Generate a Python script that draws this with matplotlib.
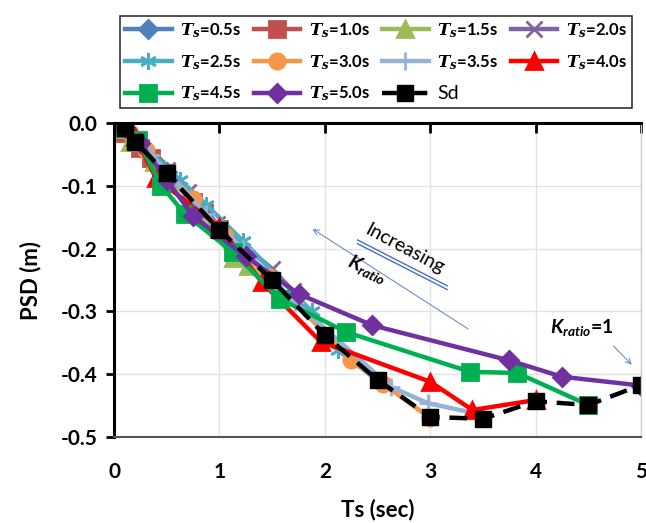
import matplotlib
matplotlib.use("Agg")
import matplotlib.pyplot as plt

plt.rcParams['font.family'] = ['Lato', 'DejaVu Sans']
plt.rcParams['axes.unicode_minus'] = False
plt.rcParams['mathtext.fontset'] = 'custom'
plt.rcParams['mathtext.it'] = 'DejaVu Serif:italic:bold'
plt.rcParams['mathtext.rm'] = 'Lato:bold'
plt.rcParams['mathtext.sf'] = 'Lato:italic:bold'

# data (Ts in sec, PSD in m)
x_05 = [0.01, 0.025, 0.05, 0.125, 0.175, 0.245, 0.375, 0.425, 0.5]
y_05 = [0.0, -0.002, -0.004, -0.016, -0.024, -0.038, -0.060, -0.068, -0.078]
x_10 = [0.02, 0.05, 0.1, 0.25, 0.35, 0.49, 0.75, 0.85, 1.0]
y_10 = [-0.001, -0.006, -0.015, -0.040, -0.056, -0.080, -0.125, -0.143, -0.168]
x_15 = [0.03, 0.075, 0.15, 0.375, 0.525, 0.735, 1.125, 1.275, 1.5]
y_15 = [-0.002, -0.010, -0.030, -0.062, -0.088, -0.125, -0.215, -0.228, -0.250]
x_20 = [0.04, 0.1, 0.2, 0.5, 0.7, 0.98, 1.5, 1.7, 2.0]
y_20 = [-0.002, -0.010, -0.028, -0.075, -0.110, -0.160, -0.232, -0.268, -0.335]
x_25 = [0.05, 0.125, 0.25, 0.625, 0.875, 1.225, 1.875, 2.125, 2.5]
y_25 = [-0.003, -0.012, -0.032, -0.090, -0.130, -0.188, -0.300, -0.362, -0.410]
x_30 = [0.06, 0.15, 0.3, 0.75, 1.05, 1.47, 2.25, 2.55, 3.0]
y_30 = [-0.004, -0.016, -0.042, -0.120, -0.180, -0.245, -0.377, -0.415, -0.470]
x_35 = [0.07, 0.175, 0.35, 0.875, 1.225, 1.715, 2.625, 2.975, 3.5]
y_35 = [-0.005, -0.018, -0.050, -0.145, -0.200, -0.285, -0.420, -0.446, -0.465]
x_40 = [0.08, 0.2, 0.4, 1.0, 1.4, 1.96, 3.0, 3.4, 4.0]
y_40 = [-0.006, -0.022, -0.088, -0.165, -0.253, -0.348, -0.412, -0.457, -0.441]
x_45 = [0.09, 0.225, 0.45, 0.675, 1.125, 1.575, 2.205, 3.375, 3.825, 4.5]
y_45 = [-0.007, -0.026, -0.100, -0.145, -0.205, -0.280, -0.333, -0.396, -0.398, -0.449]
x_50 = [0.1, 0.25, 0.5, 0.75, 1.25, 1.75, 2.45, 3.75, 4.25, 5.0]
y_50 = [-0.008, -0.032, -0.090, -0.148, -0.212, -0.272, -0.322, -0.378, -0.404, -0.418]
x_sd = [0.1, 0.2, 0.5, 1.0, 1.5, 2.0, 2.5, 3.0, 3.5, 4.0, 4.5, 5.0]
y_sd = [-0.008, -0.030, -0.080, -0.170, -0.250, -0.338, -0.409, -0.468, -0.471, -0.443, -0.449, -0.417]

labels = ['0.5', '1.0', '1.5', '2.0', '2.5', '3.0', '3.5', '4.0', '4.5', '5.0']
xs = [x_05, x_10, x_15, x_20, x_25, x_30, x_35, x_40, x_45, x_50]
ys = [y_05, y_10, y_15, y_20, y_25, y_30, y_35, y_40, y_45, y_50]
colors = ['#4F81BD', '#C0504D', '#9BBB59', '#8064A2', '#4BACC6',
          '#F79646', '#95B3D7', '#FF0000', '#00B050', '#7030A0']
markers = ['D', 's', '^', 'x', (6, 2, 0), 'o', '+', '^', 's', 'D']
msizes = [9, 11, 11, 11, 12, 11, 13, 12, 11, 9]

fig = plt.figure(figsize=(6.46, 5.23), dpi=100)
ax = fig.add_axes([0.1765, 0.1644, 0.816, 0.600])

handles = []
for x, y, lab, c, m, ms in zip(xs, ys, labels, colors, markers, msizes):
    h, = ax.plot(x, y, color=c, lw=3.2, marker=m, ms=ms, mew=2,
                 label=r'$T_s$=' + lab + 's')
    handles.append(h)
h_sd, = ax.plot(x_sd, y_sd, color='black', lw=3.2, ls=(0, (4, 2.2)), marker='s',
                ms=11, label='Sd')
handles.append(h_sd)

ax.set_xlim(0, 5)
ax.set_ylim(-0.5, 0.0)
ax.set_xticks([0, 1, 2, 3, 4, 5])
ax.set_yticks([0.0, -0.1, -0.2, -0.3, -0.4, -0.5])
ax.set_yticklabels(['0.0', '-0.1', '-0.2', '-0.3', '-0.4', '-0.5'])
ax.grid(True, color='#E3E3E3', lw=1)
ax.set_axisbelow(True)

for s in ['top', 'left']:
    ax.spines[s].set_linewidth(2.2)
    ax.spines[s].set_color('black')
ax.spines['bottom'].set_color('#555555')
ax.spines['bottom'].set_linewidth(1.5)
ax.spines['right'].set_color('#D0D0D0')
ax.spines['right'].set_linewidth(1)

ax.tick_params(axis='x', bottom=False, top=True, direction='in', length=7,
               width=2, labelbottom=True, labeltop=False, pad=18,
               labelsize=15)
ax.tick_params(axis='y', direction='out', length=6, width=2, labelsize=15,
               pad=6)
for t in ax.get_xticklabels() + ax.get_yticklabels():
    t.set_fontweight('bold')

ax.set_xlabel('Ts (sec)', fontsize=16, fontweight='bold', labelpad=12)
ax.set_ylabel('PSD (m)', fontsize=16, fontweight='bold', labelpad=14)

# legend filled row by row
order = [0, 4, 8, 1, 5, 9, 2, 6, 10, 3, 7]
leg = fig.legend([handles[i] for i in order], [handles[i].get_label() for i in order],
                 ncol=4, loc='upper left', bbox_to_anchor=(0.173, 0.985),
                 frameon=True, fancybox=False, edgecolor='black',
                 handlelength=2.8, columnspacing=0.75, handletextpad=0.5,
                 labelspacing=0.78, borderpad=0.3,
                 prop={'weight': 'bold', 'size': 12})
leg.get_frame().set_linewidth(1.2)
for t in leg.get_texts():
    if t.get_text() == 'Sd':
        t.set_fontweight('normal')
        t.set_fontsize(14)

# annotations
ax.annotate('', xy=(1.86, -0.166), xytext=(3.38, -0.33),
            arrowprops=dict(arrowstyle='->', color='#6E8FC9', lw=0.8))
ax.text(2.76, -0.201, 'Increasing', fontsize=14, rotation=-28,
        ha='center', va='center', color='black', fontweight='normal')
ax.plot([2.31, 3.16], [-0.186, -0.259], color='#4472C4', lw=1)
ax.plot([2.31, 3.16], [-0.192, -0.265], color='#4472C4', lw=1)
ax.text(2.4, -0.232, r'$\mathsf{K}_{\mathsf{ratio}}$', fontsize=14,
        rotation=-25, ha='center', va='center')
ax.text(4.14, -0.325, r'$\mathsf{K}_{\mathsf{ratio}}$=1', fontsize=14,
        ha='left', va='center', fontweight='bold')
ax.annotate('', xy=(4.93, -0.388), xytext=(4.72, -0.352),
            arrowprops=dict(arrowstyle='->', color='#6E8FC9', lw=0.8))

fig.savefig('out.png', dpi=100)
